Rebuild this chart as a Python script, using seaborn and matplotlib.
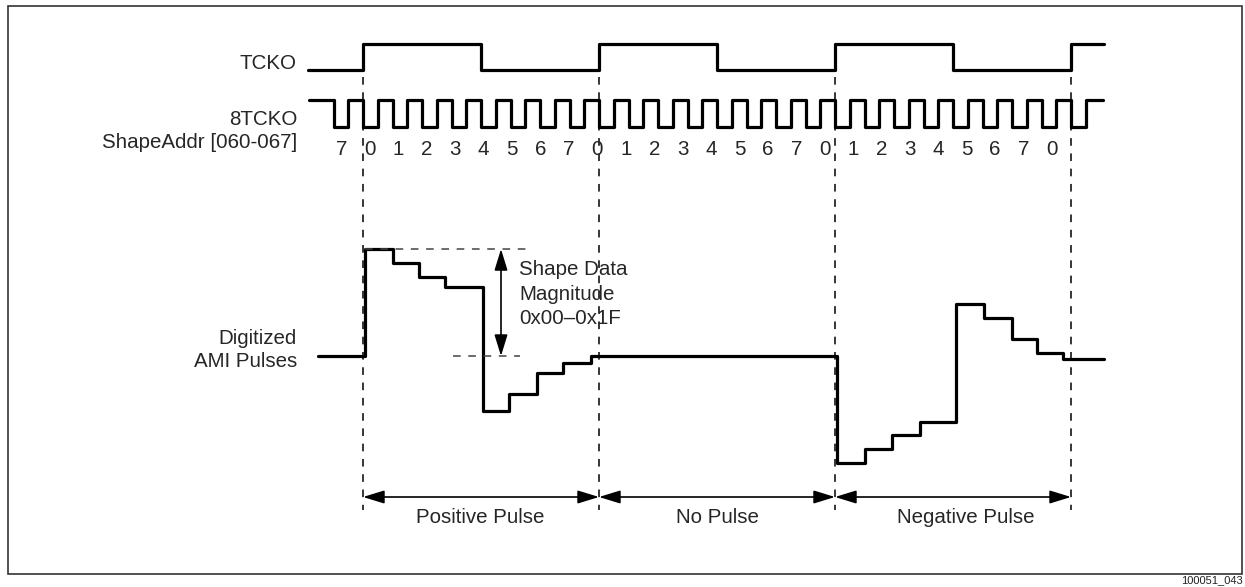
import numpy as np
import pandas as pd
import matplotlib.pyplot as plt
import seaborn as sns
from matplotlib.patches import Rectangle

# ---- data (time in 8TCKO cycles, t=0 at first TCKO rising edge) ----
tcko_t = [-1.86, 0, 4, 8, 12, 16, 20, 24, 25.12]
tcko_bits = [0, 1, 0, 1, 0, 1, 0, 1, 1]

clk8_bits = ("1" "0101010101010101" "0101010101010101" "0101010101010101" "0101" "1")
clk8_t = [-1.83] + [k * 0.5 for k in range(-2, 50)] + [25.1]

addr_labels = list("70123456701234567012345670")

# shape samples (magnitude, 0x1F = 31 full scale)
pos_t = [0.07, 1.02, 1.90, 2.78, 4.07, 4.95, 5.90, 6.78, 7.73]
pos_mag = [31, 27, 23, 20, -16, -11, -5, -2, 0]
neg_t = [16.07, 17.02, 17.93, 18.88, 20.10, 21.05, 22.0, 22.85, 23.73]
neg_mag = [-31, -27, -23, -19, 15, 11, 5, 1, -1]
ami_start, ami_end = -1.53, 25.12

boundaries = [0, 8, 16, 24]
pulse_names = ["Positive Pulse", "No Pulse", "Negative Pulse"]

# ---- layout (pixel rows, y grows downward) ----
W, H = 1245, 587
X0, CYC = 363, 29.5           # pixel x of t=0, pixels per cycle
TCKO_HI, TCKO_LO = 44, 70
CLK_HI, CLK_LO = 100, 127
AMI_BASE, AMI_SCALE = 356, 3.45


def tx(px):
    return (px - X0) / CYC


def ami_y(m):
    return AMI_BASE - np.asarray(m) * AMI_SCALE


sns.set_theme(style="white")
plt.rcParams['font.family'] = ['Liberation Sans', 'DejaVu Sans']

fig = plt.figure(figsize=(W / 100, H / 100), dpi=100)
ax = fig.add_axes([0, 0, 1, 1])
ax.set_xlim(tx(0), tx(W))
ax.set_ylim(H, 0)
ax.axis('off')

wave_kw = dict(color='black', lw=2.3, drawstyle='steps-post', estimator=None,
               sort=False, legend=False, ax=ax)

tcko = pd.DataFrame({'t': tcko_t, 'y': [TCKO_HI if b else TCKO_LO for b in tcko_bits]})
sns.lineplot(data=tcko, x='t', y='y', **wave_kw)

clk8 = pd.DataFrame({'t': clk8_t, 'y': [CLK_HI if b == "1" else CLK_LO for b in clk8_bits]})
sns.lineplot(data=clk8, x='t', y='y', **wave_kw)

ami = pd.DataFrame({'t': [ami_start] + pos_t + neg_t + [ami_end],
                    'mag': [0] + pos_mag + neg_mag + [neg_mag[-1]]})
ami['y'] = ami_y(ami['mag'])
sns.lineplot(data=ami, x='t', y='y', **wave_kw)

dash = (0, (5, 5))
ax.vlines(boundaries, 77, 510, colors='black', lw=1.1, linestyles=dash)
ax.hlines(ami_y(31), tx(365), tx(527), colors='#444444', lw=1.1, linestyles=dash)
ax.hlines(AMI_BASE, tx(453), tx(520), colors='#444444', lw=1.1, linestyles=dash)

arrow = dict(arrowstyle='<|-|>,head_length=0.65,head_width=0.2', color='black',
             lw=1.2, mutation_scale=20, shrinkA=0, shrinkB=0)
ax.annotate('', xy=(tx(501), ami_y(31)), xytext=(tx(501), AMI_BASE), arrowprops=arrow)
for a, b in zip(boundaries[:-1], boundaries[1:]):
    ax.annotate('', xy=(b, 497), xytext=(a, 497), arrowprops=arrow)

fs = 14.8
for i, lab in enumerate(addr_labels):
    ax.text(-0.722 + i * 0.963, 155, lab, ha='center', va='baseline', fontsize=fs)

left = tx(297)
ax.text(left, 69, "TCKO", ha='right', va='baseline', fontsize=fs)
ax.text(left, 125, "8TCKO", ha='right', va='baseline', fontsize=fs)
ax.text(left, 148, "ShapeAddr [060-067]", ha='right', va='baseline', fontsize=fs)
ax.text(left, 344, "Digitized", ha='right', va='baseline', fontsize=fs)
ax.text(left, 367, "AMI Pulses", ha='right', va='baseline', fontsize=fs)

for j, line in enumerate(["Shape Data", "Magnitude", "0x00\u20130x1F"]):
    ax.text(tx(519), 275 + j * 24.5, line, ha='left', va='baseline', fontsize=fs)

for name, cx in zip(pulse_names, [480, 717, 966]):
    ax.text(tx(cx), 523, name, ha='center', va='baseline', fontsize=fs)

fig.add_artist(Rectangle((8 / W, 1 - 574 / H), (1242 - 8) / W, (574 - 6) / H,
                         transform=fig.transFigure, fill=False,
                         edgecolor='#333333', lw=1.2))
ax.text(tx(1243), 583, "100051_043", ha='right', va='baseline', fontsize=8, color='#222222')

fig.savefig("out.png", dpi=100)
